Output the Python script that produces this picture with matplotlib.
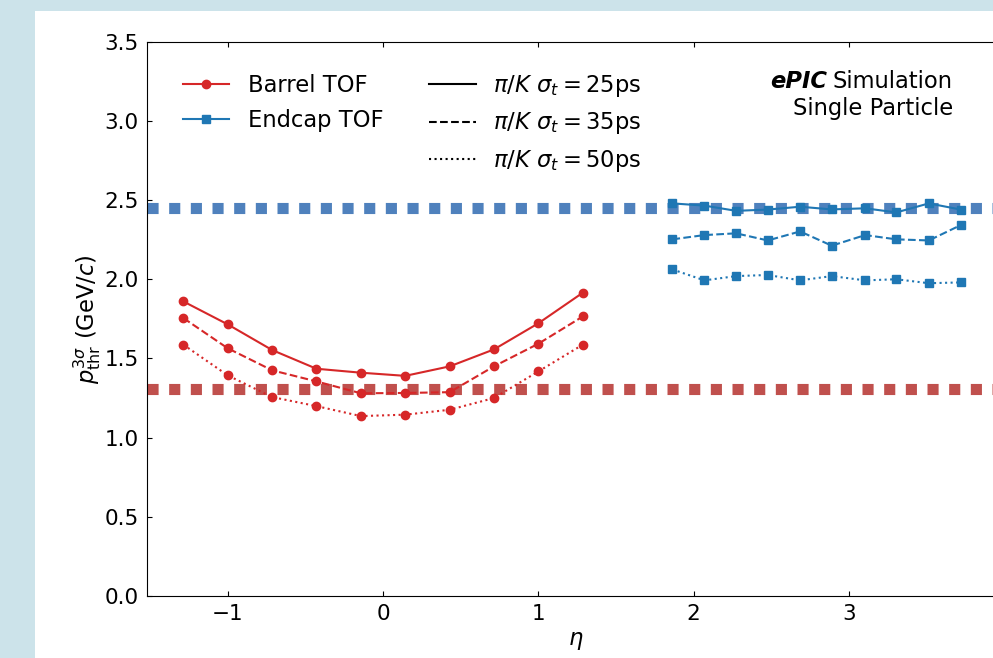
import matplotlib
matplotlib.use('Agg')
import matplotlib.pyplot as plt
from matplotlib.patches import Rectangle
from matplotlib.lines import Line2D

# barrel TOF: eta bin centres and 3-sigma pi/K threshold momentum (GeV/c)
barrel_eta = [-1.286, -1.0, -0.714, -0.429, -0.143, 0.143, 0.429, 0.714, 1.0, 1.286]
barrel_25ps = [1.86, 1.715, 1.553, 1.435, 1.41, 1.39, 1.45, 1.557, 1.722, 1.915]
barrel_35ps = [1.755, 1.564, 1.425, 1.355, 1.28, 1.282, 1.287, 1.45, 1.593, 1.765]
barrel_50ps = [1.587, 1.393, 1.256, 1.199, 1.136, 1.145, 1.176, 1.25, 1.418, 1.587]

# endcap TOF
endcap_eta = [1.863, 2.069, 2.273, 2.477, 2.685, 2.889, 3.104, 3.305, 3.514, 3.72]
endcap_25ps = [2.479, 2.465, 2.432, 2.44, 2.458, 2.441, 2.448, 2.422, 2.479, 2.44]
endcap_35ps = [2.252, 2.279, 2.29, 2.245, 2.302, 2.212, 2.279, 2.252, 2.245, 2.342]
endcap_50ps = [2.062, 1.993, 2.02, 2.027, 1.993, 2.02, 1.993, 2.0, 1.975, 1.98]

# reference levels
endcap_ref = 2.45
barrel_ref = 1.305

res_labels = [r'$\pi/K\ \sigma_t = 25$ps', r'$\pi/K\ \sigma_t = 35$ps', r'$\pi/K\ \sigma_t = 50$ps']
styles = ['-', '--', ':']

RED = '#d62728'
BLUE = '#1f77b4'
FS = 15.5      # tick labels
FS_TXT = 16.3  # legend / annotations

plt.rcParams['font.family'] = ['DejaVu Sans']
plt.rcParams['mathtext.fontset'] = 'dejavusans'

fig = plt.figure(figsize=(9.93, 6.58), dpi=100, facecolor='#cce3ea')
# white page area
fig.add_artist(Rectangle((35 / 993, 0), 1, 1 - 11 / 658, transform=fig.transFigure,
                         facecolor='white', edgecolor='none', zorder=-10))

ax = fig.add_axes([147 / 993, 62 / 658, 857.3 / 993, 554.3 / 658])

ax.axhline(endcap_ref, color='#4f81bd', lw=8, ls=(0, (1, 0.95)), zorder=1.5)
ax.axhline(barrel_ref, color='#c0504d', lw=8, ls=(0, (1, 0.95)), zorder=1.5)

for ys, st in zip([barrel_25ps, barrel_35ps, barrel_50ps], styles):
    ax.plot(barrel_eta, ys, color=RED, ls=st, marker='o', ms=6, lw=1.5)
for ys, st in zip([endcap_25ps, endcap_35ps, endcap_50ps], styles):
    ax.plot(endcap_eta, ys, color=BLUE, ls=st, marker='s', ms=6, lw=1.5)

ax.set_xlim(-1.52, 4.0)
ax.set_ylim(0, 3.5)
ax.set_xticks([-1, 0, 1, 2, 3])
ax.set_yticks([0, 0.5, 1.0, 1.5, 2.0, 2.5, 3.0, 3.5])
ax.tick_params(direction='in', top=True, right=True, labelsize=FS, pad=6)
ax.set_xlabel(r'$\eta$', fontsize=FS_TXT, labelpad=3)
ax.set_ylabel(r'$p^{3\sigma}_{\mathrm{thr}}$ (GeV/$c$)', fontsize=FS_TXT, labelpad=1)

h1 = [Line2D([], [], color=RED, marker='o', ms=6, lw=1.5),
      Line2D([], [], color=BLUE, marker='s', ms=6, lw=1.5)]
leg1 = ax.legend(h1, ['Barrel TOF', 'Endcap TOF'], loc='upper left',
                 bbox_to_anchor=(0.018, 0.979), frameon=False, fontsize=FS_TXT,
                 handlelength=2.05, handletextpad=0.85, labelspacing=0.55)
ax.add_artist(leg1)
h2 = [Line2D([], [], color='k', ls=st, lw=1.5) for st in styles]
ax.legend(h2, res_labels, loc='upper left', bbox_to_anchor=(0.305, 0.98),
          frameon=False, fontsize=FS_TXT, handlelength=2.1, handletextpad=0.75,
          labelspacing=0.5)

t1 = fig.text(953 / 993, 1 - 88 / 658, 'Simulation', ha='right', va='baseline', fontsize=FS_TXT)
ax.annotate('ePIC', xy=(0, 0), xycoords=t1, xytext=(-4.5, 0), textcoords='offset points',
            ha='right', va='bottom', fontsize=FS_TXT, fontweight='bold', fontstyle='italic')
fig.text(953 / 993, 1 - 115 / 658, 'Single Particle', ha='right', va='baseline', fontsize=FS_TXT)

fig.savefig('out.png', dpi=100, facecolor=fig.get_facecolor())
